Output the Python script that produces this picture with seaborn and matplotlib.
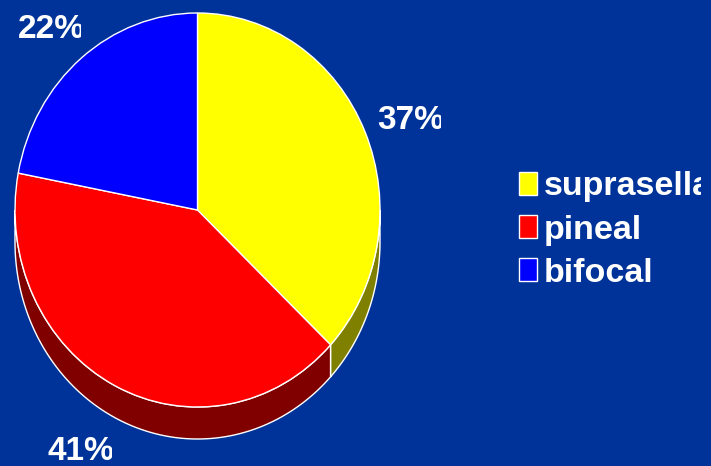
import numpy as np
import matplotlib
matplotlib.use("Agg")
import matplotlib.pyplot as plt
from matplotlib.transforms import Bbox
import seaborn as sns

# Share of tumour locations
locations = ["suprasellar", "pineal", "bifocal"]
shares = [37, 41, 22]
share_labels = ["37%", "41%", "22%"]

top_colors = sns.color_palette(["#ffff00", "#ff0000", "#0000ff"])
side_colors = sns.color_palette(["#808000", "#800000", "#000080"])
BACKGROUND = "#003399"

WIDTH, HEIGHT = 711, 466
CENTER_X, CENTER_Y = 197.5, 210
RADIUS_X, RADIUS_Y = 182.5, 197
DEPTH = 32 / RADIUS_Y

sns.set_theme(style="white")
plt.rcParams["font.family"] = ["Liberation Sans", "DejaVu Sans"]

fig = plt.figure(figsize=(WIDTH / 100, HEIGHT / 100), dpi=100, facecolor=BACKGROUND)
ax = fig.add_axes([0, 0, 1, 1])

wedges, _ = ax.pie(
    shares,
    colors=top_colors,
    startangle=90,
    counterclock=False,
    wedgeprops={"edgecolor": "white", "linewidth": 1.0, "zorder": 3},
)

# Stretch the unit circle into the tall ellipse of the tilted disc
ax.set_aspect("auto")
ax.set_xlim(-CENTER_X / RADIUS_X, (WIDTH - CENTER_X) / RADIUS_X)
ax.set_ylim((CENTER_Y - HEIGHT) / RADIUS_Y, CENTER_Y / RADIUS_Y)
ax.set_axis_off()

# Side walls of the disc: only the front half (180 to 360 degrees) is visible
end_angles = 90 - np.cumsum(shares) * 3.6
start_angles = np.r_[90, end_angles[:-1]]
for start, end, color in zip(start_angles, end_angles, side_colors):
    low, high = max(end, -180), min(start, 0)
    if low >= high:
        continue
    theta = np.radians(np.linspace(high, low, 120))
    xs = np.r_[np.cos(theta), np.cos(theta[::-1])]
    ys = np.r_[np.sin(theta), np.sin(theta[::-1]) - DEPTH]
    ax.fill(xs, ys, facecolor=color, edgecolor="white", linewidth=1.0, zorder=2)


def clip_right(text, right_px):
    """Cut a text off at a pixel column, as a too-narrow text box would."""
    text.set_clip_box(Bbox([[0, 0], [right_px, HEIGHT]]))
    text.set_clip_on(True)


# Percentage labels, in data order, sit in fixed narrow boxes
label_places = [(377, 129, 441), (48, 460, 112), (18, 38, 81)]
for label, (left, baseline, right) in zip(share_labels, label_places):
    t = fig.text(left / WIDTH, 1 - baseline / HEIGHT, label, color="white",
                 fontsize=24, fontweight="bold", ha="left", va="baseline")
    clip_right(t, right)

legend = ax.legend(
    wedges,
    locations,
    loc="upper left",
    bbox_to_anchor=(512 / WIDTH, 1 - 164.5 / HEIGHT),
    bbox_transform=fig.transFigure,
    frameon=False,
    prop={"family": "Liberation Sans", "weight": "bold", "size": 24.5},
    labelcolor="white",
    handlelength=0.54,
    handleheight=0.67,
    handletextpad=0.19,
    labelspacing=0.36,
    borderpad=0.2,
    borderaxespad=0,
)
for handle in legend.get_patches():
    handle.set_linewidth(1.0)
    handle.set_edgecolor("white")
for text in legend.get_texts():
    clip_right(text, 701)

fig.savefig("out.png", dpi=100, facecolor=BACKGROUND)
